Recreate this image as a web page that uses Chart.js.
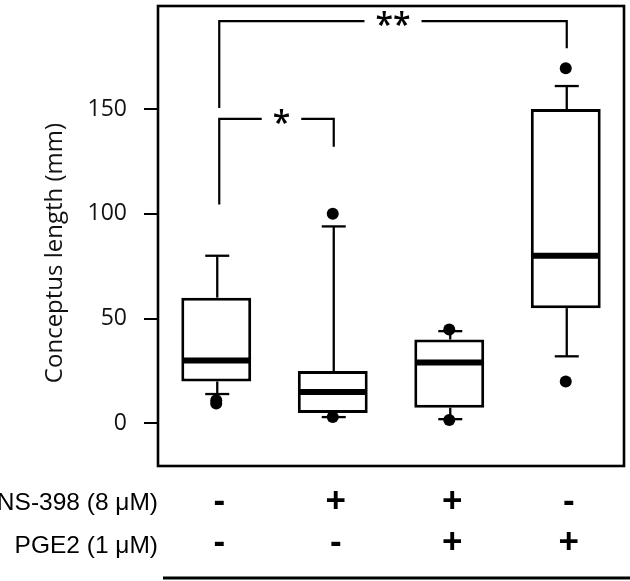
<!DOCTYPE html>
<html><head><meta charset="utf-8">
<script src="https://cdn.jsdelivr.net/npm/chart.js@4"></script>
<style>html,body{margin:0;padding:0;background:#fff}</style>
</head><body>
<canvas id="c" width="630" height="581" style="display:block;width:630px;height:581px"></canvas>
<script>
// ---- data ----
const categories = ['Control', 'NS-398', 'NS-398 + PGE2', 'PGE2'];
const ns398Row = ['-', '+', '+', '-'];
const pge2Row = ['-', '-', '+', '+'];
const rowLabels = ['NS-398 (8 μM)', 'PGE2 (1 μM)'];
const q1 = [20, 5, 7.5, 55];
const medians = [30, 15, 29, 80];
const q3 = [60, 25, 40, 150];
const whiskerLow = [14, 3, 2, 32];
const whiskerHigh = [80, 94, 44, 161];
const outliers = [[9.5, 11], [3, 100], [1.6, 44.8], [20, 169.5]];
const yTicks = [0, 50, 100, 150];
const yMin = -20.35, yMax = 199.2;
const bracketFrom = [0, 0];
const bracketTo = [3, 1];
const bracketLevel = [192, 145.3];
const bracketLeftFoot = [150.5, 104.5];
const bracketRightFoot = [179, 132];
const bracketLabel = ['**', '*'];
const axisTitle = 'Conceptus length (mm)';

const outlierPoints = [];
outliers.forEach((arr, i) => arr.forEach(v => outlierPoints.push({x: categories[i], y: v})));

const extras = {
  id: 'extras',
  beforeDatasetsDraw(chart) {
    const {ctx, scales: {x, y}} = chart;
    ctx.save();
    ctx.strokeStyle = '#000';
    ctx.lineWidth = 2.3;
    categories.forEach((c, i) => {
      const cx = x.getPixelForValue(i) + 1;
      [[q3[i], whiskerHigh[i]], [q1[i], whiskerLow[i]]].forEach(([a, b]) => {
        const pa = y.getPixelForValue(a), pb = y.getPixelForValue(b);
        ctx.beginPath(); ctx.moveTo(cx, pa); ctx.lineTo(cx, pb); ctx.stroke();
        ctx.beginPath(); ctx.moveTo(cx - 12, pb); ctx.lineTo(cx + 12, pb); ctx.stroke();
      });
    });
    ctx.restore();
  },
  afterDatasetsDraw(chart) {
    const {ctx, scales: {x, y}} = chart;
    const meta = chart.getDatasetMeta(1);
    ctx.save();
    ctx.strokeStyle = '#000';
    ctx.lineWidth = 6;
    categories.forEach((c, i) => {
      const el = meta.data[i];
      const py = y.getPixelForValue(medians[i]);
      ctx.beginPath(); ctx.moveTo(el.x - el.width / 2 + 1, py); ctx.lineTo(el.x + el.width / 2 - 1, py); ctx.stroke();
    });
    ctx.restore();
  },
  afterDraw(chart) {
    const {ctx, chartArea: a, scales: {x, y}} = chart;
    ctx.save();
    // frame
    ctx.strokeStyle = '#000';
    ctx.lineWidth = 2.6;
    ctx.strokeRect(a.left, a.top, a.right - a.left, a.bottom - a.top);
    // brackets
    ctx.lineWidth = 2.2;
    ctx.font = '600 32px "Open Sans"';
    ctx.fillStyle = '#000';
    ctx.textAlign = 'center';
    ctx.textBaseline = 'alphabetic';
    bracketLabel.forEach((lab, k) => {
      const xl = x.getPixelForValue(bracketFrom[k]) + 3;
      const xr = x.getPixelForValue(bracketTo[k]) + 1;
      const py = y.getPixelForValue(bracketLevel[k]);
      const mid = (xl + xr) / 2 + (k === 1 ? 5 : 0);
      const w = ctx.measureText(lab).width;
      const gapL = mid - w / 2 - 11, gapR = mid + w / 2 + 11;
      ctx.beginPath();
      ctx.moveTo(xl, y.getPixelForValue(bracketLeftFoot[k]));
      ctx.lineTo(xl, py); ctx.lineTo(gapL, py);
      ctx.moveTo(gapR, py); ctx.lineTo(xr, py);
      ctx.lineTo(xr, y.getPixelForValue(bracketRightFoot[k]));
      ctx.stroke();
      ctx.fillText(lab, mid, py + 15);
    });
    // axis title
    ctx.save();
    ctx.translate(55, 253);
    ctx.rotate(-Math.PI / 2);
    ctx.font = '24px "Open Sans"';
    ctx.fillStyle = '#111';
    ctx.textAlign = 'center';
    ctx.textBaseline = 'middle';
    ctx.fillText(axisTitle, 0, 0);
    ctx.restore();
    // treatment rows
    const rowY = [503, 546];
    const symY = [502, 543];
    ctx.font = '24.5px "Liberation Sans", Arial';
    ctx.fillStyle = '#000';
    ctx.textAlign = 'right';
    ctx.textBaseline = 'middle';
    rowLabels.forEach((t, r) => ctx.fillText(t, 158, rowY[r]));
    ctx.font = 'bold 35px "Liberation Sans", Arial';
    ctx.textAlign = 'center';
    [ns398Row, pge2Row].forEach((row, r) => {
      row.forEach((s, i) => ctx.fillText(s, x.getPixelForValue(i) + 3, symY[r]));
    });
    // bottom rule
    ctx.lineWidth = 3;
    ctx.beginPath(); ctx.moveTo(163, 578); ctx.lineTo(630, 578); ctx.stroke();
    ctx.restore();
  }
};

function noPad(s) { s.paddingTop = 0; s.paddingBottom = 0; s.paddingLeft = 0; s.paddingRight = 0; }

new Chart(document.getElementById('c'), {
  type: 'bar',
  data: {
    labels: categories,
    datasets: [
      {
        type: 'scatter',
        data: outlierPoints,
        pointRadius: 6,
        pointBackgroundColor: '#000',
        pointBorderWidth: 0,
        showLine: false
      },
      {
        type: 'bar',
        data: categories.map((c, i) => [q1[i], q3[i]]),
        backgroundColor: '#fff',
        borderColor: '#000',
        borderWidth: 3,
        borderSkipped: false,
        barPercentage: 0.6,
        categoryPercentage: 1
      }
    ]
  },
  options: {
    responsive: false,
    animation: false,
    layout: {padding: {left: 0, right: 6, top: 2, bottom: 0}},
    plugins: {legend: {display: false}, tooltip: {enabled: false}},
    scales: {
      x: {
        type: 'category',
        offset: true,
        grid: {display: false},
        border: {display: false},
        ticks: {display: false},
        afterFit(s) { s.height = 115; noPad(s); }
      },
      y: {
        min: yMin, max: yMax,
        afterBuildTicks(s) { s.ticks = yTicks.map(v => ({value: v})); },
        grid: {drawOnChartArea: false, drawTicks: true, tickLength: 14, color: '#000', lineWidth: 2},
        border: {display: false},
        ticks: {padding: 17, color: '#111', font: {family: '"Open Sans"', size: 23}},
        afterFit(s) { s.width = 158; noPad(s); }
      }
    }
  },
  plugins: [extras]
});
</script>
</body></html>
